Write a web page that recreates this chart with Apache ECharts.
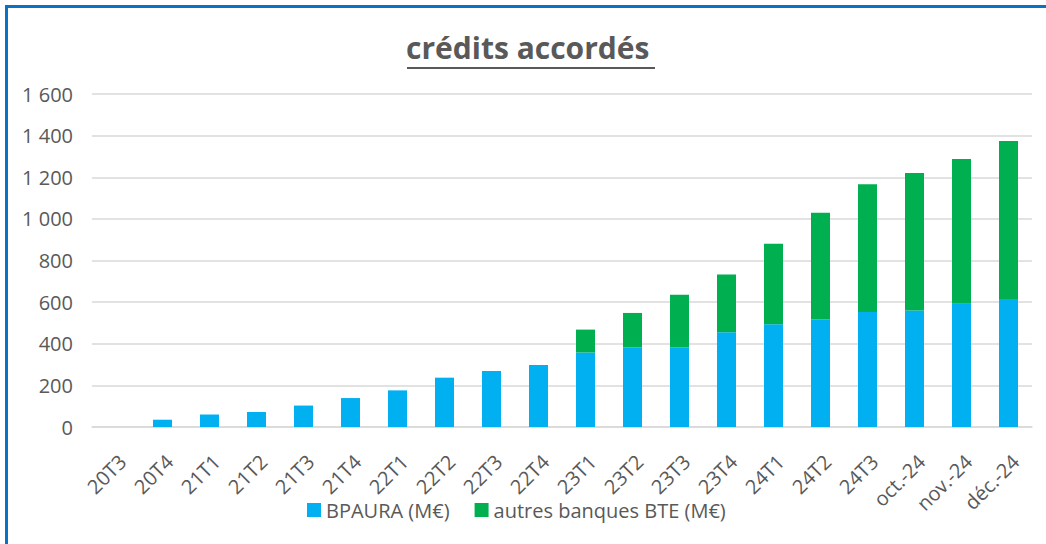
<!DOCTYPE html>
<html>
<head>
<meta charset="utf-8">
<script src="https://cdn.jsdelivr.net/npm/echarts@6/dist/echarts.min.js"></script>
<style>
html,body{margin:0;padding:0;background:#fff;}
#chart{width:1046px;height:544px;}
</style>
</head>
<body>
<div id="chart"></div>
<script>
const titleText = 'crédits accordés';
const categories = ['20T3','20T4','21T1','21T2','21T3','21T4','22T1','22T2','22T3','22T4','23T1','23T2','23T3','23T4','24T1','24T2','24T3','oct.-24','nov.-24','déc.-24'];
const seriesNames = ['BPAURA (M€)', 'autres banques BTE (M€)'];
const bpauraValues = [0, 35, 60, 72, 103, 139, 176, 237, 269, 298, 358, 382, 382, 455, 494, 517, 553, 560, 592, 615];
const autresValues = [null, null, null, null, null, null, null, null, null, null, 110, 166, 253, 278, 386, 512, 613, 660, 696, 759];
const yTicks = [0, 200, 400, 600, 800, 1000, 1200, 1400, 1600];

const FONT = '"Open Sans", Lato, sans-serif';
const GREY = '#595959';

const chart = echarts.init(document.getElementById('chart'), null, {renderer: 'svg'});
chart.setOption({
  animation: false,
  backgroundColor: '#fff',
  title: {
    text: titleText,
    left: 406,
    top: 32,
    padding: 0,
    textStyle: {fontFamily: FONT, fontSize: 30, fontWeight: 'bold', color: GREY}
  },
  graphic: [
    {type: 'rect', shape: {x: 5, y: 5, width: 1041, height: 3}, style: {fill: '#0A72C4'}, silent: true},
    {type: 'rect', shape: {x: 5, y: 5, width: 3, height: 539}, style: {fill: '#0A72C4'}, silent: true},
    {type: 'rect', shape: {x: 407, y: 67, width: 248, height: 2}, style: {fill: GREY}, silent: true}
  ],
  legend: {
    data: seriesNames,
    left: 307,
    top: 500,
    padding: 0,
    itemWidth: 14,
    itemHeight: 14,
    itemGap: 25,
    icon: 'rect',
    textStyle: {fontFamily: FONT, fontSize: 20, color: GREY}
  },
  grid: {left: 92, right: 14, top: 94, bottom: 117, containLabel: false},
  xAxis: {
    type: 'category',
    data: categories,
    axisTick: {show: false},
    axisLine: {lineStyle: {color: '#d9d9d9', width: 1.5}},
    axisLabel: {rotate: 45, fontFamily: FONT, fontSize: 20, color: GREY, margin: 24, interval: 0, verticalAlign: 'top'}
  },
  yAxis: {
    type: 'value',
    min: yTicks[0],
    max: yTicks[yTicks.length - 1],
    interval: 200,
    axisLine: {show: false},
    axisTick: {show: false},
    splitLine: {lineStyle: {color: '#d9d9d9', width: 1.5}},
    axisLabel: {
      fontFamily: FONT, fontSize: 20, color: GREY, margin: 19,
      formatter: function (v) { return String(v).replace(/\B(?=(\d{3})+(?!\d))/g, ' '); }
    }
  },
  series: [
    {name: seriesNames[0], type: 'bar', stack: 'total', data: bpauraValues, barWidth: 19, itemStyle: {color: '#00B0F0'}},
    {name: seriesNames[1], type: 'bar', stack: 'total', data: autresValues, barWidth: 19, itemStyle: {color: '#00B050'}}
  ]
});
</script>
</body>
</html>
